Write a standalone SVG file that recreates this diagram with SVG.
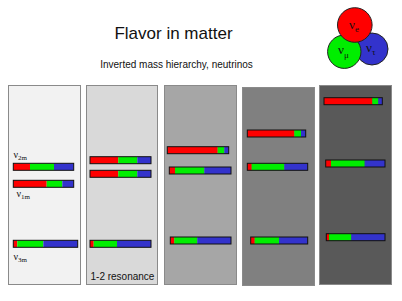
<svg xmlns="http://www.w3.org/2000/svg" width="402" height="301" viewBox="0 0 402 301">
<style>
.panel{stroke:#8a8a8a;stroke-width:1}
.r{fill:#ff0000}.g{fill:#00ee00}.b{fill:#3333cc}
.frame{fill:none;stroke:#111;stroke-width:1}
.t{font-family:"Liberation Sans",Arial,sans-serif;fill:#111}
.nu{font-family:"Liberation Serif","Times New Roman",serif;fill:#111}
</style>
<rect width="402" height="301" fill="#ffffff"/>
<text class="t" x="173.5" y="39" font-size="17" text-anchor="middle">Flavor in matter</text>
<text class="t" x="176.5" y="68" font-size="10" text-anchor="middle">Inverted mass hierarchy, neutrinos</text>

<g id="flavors">
<circle cx="372" cy="49" r="16" fill="#3333cc" stroke="#222" stroke-width="1"/>
<circle cx="344.3" cy="51.7" r="16.7" fill="#00ee00" stroke="#222" stroke-width="1"/>
<circle cx="354.8" cy="25" r="17.3" fill="#ff0000" stroke="#222" stroke-width="1"/>
<text class="nu" x="349" y="29" font-size="13">ν<tspan font-size="9" dy="3">e</tspan></text>
<text class="nu" x="338" y="54" font-size="13">ν<tspan font-size="9" dy="4">μ</tspan></text>
<text class="nu" x="366" y="52" font-size="13">ν<tspan font-size="9" dy="3">τ</tspan></text>
</g>

<g id="panel1">
<rect class="panel" x="8.5" y="85.5" width="72" height="199" fill="#f2f2f2"/>
<rect class="r" x="13.3" y="163.3" width="16.7" height="7"/><rect class="g" x="30" y="163.3" width="24" height="7"/><rect class="b" x="54" y="163.3" width="19.7" height="7"/>
<rect class="frame" x="13.3" y="163.3" width="60.4" height="7"/>
<rect class="r" x="13.3" y="180.3" width="33.4" height="7"/><rect class="g" x="46.7" y="180.3" width="15.6" height="7"/><rect class="b" x="62.3" y="180.3" width="11.4" height="7"/>
<rect class="frame" x="13.3" y="180.3" width="60.4" height="7"/>
<rect class="r" x="13.3" y="240.3" width="4" height="7"/><rect class="g" x="17.3" y="240.3" width="26" height="7"/><rect class="b" x="43.3" y="240.3" width="34.4" height="7"/>
<rect class="frame" x="13.3" y="240.3" width="64.4" height="7"/>
<text class="nu" x="13.5" y="158" font-size="10">ν<tspan font-size="7" dy="2">2m</tspan></text>
<text class="nu" x="16.5" y="197" font-size="10">ν<tspan font-size="7" dy="2">1m</tspan></text>
<text class="nu" x="13.5" y="260" font-size="10">ν<tspan font-size="7" dy="2">3m</tspan></text>
</g>

<g id="panel2">
<rect class="panel" x="86.5" y="85.5" width="71" height="199" fill="#d9d9d9"/>
<rect class="r" x="90" y="156.7" width="28.3" height="7"/><rect class="g" x="118.3" y="156.7" width="19" height="7"/><rect class="b" x="137.3" y="156.7" width="13.7" height="7"/>
<rect class="frame" x="90" y="156.7" width="61" height="7"/>
<rect class="r" x="90" y="170.3" width="28.3" height="7"/><rect class="g" x="118.3" y="170.3" width="19" height="7"/><rect class="b" x="137.3" y="170.3" width="13.7" height="7"/>
<rect class="frame" x="90" y="170.3" width="61" height="7"/>
<rect class="r" x="90" y="240.3" width="3.7" height="7"/><rect class="g" x="93.7" y="240.3" width="23.3" height="7"/><rect class="b" x="117" y="240.3" width="34" height="7"/>
<rect class="frame" x="90" y="240.3" width="61" height="7"/>
<text class="t" x="90.5" y="280" font-size="10">1-2 resonance</text>
</g>

<g id="panel3">
<rect class="panel" x="164.5" y="85.5" width="72" height="199" fill="#a6a6a6"/>
<rect class="r" x="167.3" y="146.7" width="50.4" height="7"/><rect class="g" x="217.7" y="146.7" width="6.6" height="7"/><rect class="b" x="224.3" y="146.7" width="4.4" height="7"/>
<rect class="frame" x="167.3" y="146.7" width="61.4" height="7"/>
<rect class="r" x="169.3" y="167" width="5.7" height="7"/><rect class="g" x="175" y="167" width="29.3" height="7"/><rect class="b" x="204.3" y="167" width="26.7" height="7"/>
<rect class="frame" x="169.3" y="167" width="61.7" height="7"/>
<rect class="r" x="170.3" y="237" width="4" height="7"/><rect class="g" x="174.3" y="237" width="23" height="7"/><rect class="b" x="197.3" y="237" width="33.7" height="7"/>
<rect class="frame" x="170.3" y="237" width="60.7" height="7"/>
</g>

<g id="panel4">
<rect class="panel" x="242.5" y="87.5" width="72" height="198" fill="#808080"/>
<rect class="r" x="247.3" y="130" width="47" height="7"/><rect class="g" x="294.3" y="130" width="6.7" height="7"/><rect class="b" x="301" y="130" width="4.7" height="7"/>
<rect class="frame" x="247.3" y="130" width="58.4" height="7"/>
<rect class="r" x="247.3" y="163.3" width="4.4" height="7"/><rect class="g" x="251.7" y="163.3" width="32.6" height="7"/><rect class="b" x="284.3" y="163.3" width="23.4" height="7"/>
<rect class="frame" x="247.3" y="163.3" width="60.4" height="7"/>
<rect class="r" x="250.7" y="237" width="4" height="7"/><rect class="g" x="254.7" y="237" width="24.3" height="7"/><rect class="b" x="279" y="237" width="28.7" height="7"/>
<rect class="frame" x="250.7" y="237" width="57" height="7"/>
</g>

<g id="panel5">
<rect class="panel" x="319.5" y="85.5" width="72" height="199" fill="#595959"/>
<rect class="r" x="324" y="97.7" width="48.3" height="7"/><rect class="g" x="372.3" y="97.7" width="6" height="7"/><rect class="b" x="378.3" y="97.7" width="4" height="7"/>
<rect class="frame" x="324" y="97.7" width="58.3" height="7"/>
<rect class="r" x="325.7" y="160" width="5.3" height="7"/><rect class="g" x="331" y="160" width="33.7" height="7"/><rect class="b" x="364.7" y="160" width="20.3" height="7"/>
<rect class="frame" x="325.7" y="160" width="59.3" height="7"/>
<rect class="r" x="326.3" y="233.7" width="2.7" height="7"/><rect class="g" x="329" y="233.7" width="22.3" height="7"/><rect class="b" x="351.3" y="233.7" width="33.7" height="7"/>
<rect class="frame" x="326.3" y="233.7" width="58.7" height="7"/>
</g>
<g id="connectors"/>
</svg>
